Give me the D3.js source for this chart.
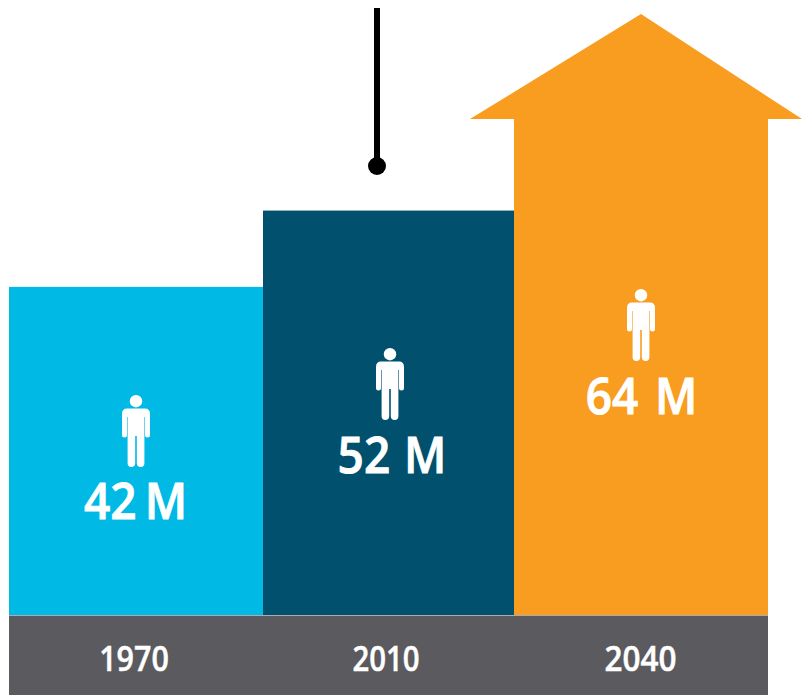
<!DOCTYPE html>
<html>
<head>
<meta charset="utf-8">
<style>
html, body { margin: 0; padding: 0; background: #fff; }
svg { display: block; }
text { font-family: "Open Sans", sans-serif; fill: #fff; stroke: #fff; text-anchor: middle; font-weight: 600; }
</style>
<script src="https://cdn.jsdelivr.net/npm/d3@7/dist/d3.min.js"></script>
</head>
<body>
<svg id="chart" width="802" height="695"></svg>
<script>
const years = ["1970", "2010", "2040"];
const populations = [42, 52, 64];
const valueLabels = ["42 M", "52 M", "64 M"];
const barColors = ["#00b9e4", "#00506e", "#f99d20"];
const bandColor = "#5b5a5e";

const height = 695;
const svg = d3.select("#chart");

// Column edges: the middle bar sits a little off the even division.
const edges = [9, 263, 514, 768];
const left = d3.scaleOrdinal(years, edges.slice(0, 3));
const right = d3.scaleOrdinal(years, edges.slice(1));
// The bars rest on the year band, just under the scale's natural origin.
const y = d3.scaleLinear().domain([-1, 64]).range([615, 119]);

// Year band along the bottom
svg.append("rect")
  .attr("x", edges[0]).attr("y", y(-1) + 0.5)
  .attr("width", edges[3] - edges[0])
  .attr("height", height - y(-1))
  .attr("fill", bandColor);

// Bars
svg.selectAll("rect.bar")
  .data(years)
  .join("rect")
  .attr("class", "bar")
  .attr("x", d => left(d))
  .attr("y", (d, i) => y(populations[i]))
  .attr("width", d => right(d) - left(d))
  .attr("height", (d, i) => y(-1) - y(populations[i]))
  .attr("fill", (d, i) => barColors[i]);

// Arrow head capping the last bar
const shoulder = y(populations[2]);
svg.append("path")
  .attr("d", d3.line()([[470, shoulder], [641, 14], [802, shoulder]]) + "Z")
  .attr("fill", barColors[2]);

// Callout stem over the middle bar
svg.append("line")
  .attr("x1", 377).attr("x2", 377)
  .attr("y1", 8).attr("y2", 165)
  .attr("stroke", "#000").attr("stroke-width", 6);
svg.append("circle")
  .attr("cx", 377).attr("cy", 166).attr("r", 9).attr("fill", "#000");

// Standing figure, drawn around its own centre line
function person(g) {
  g.append("circle").attr("cx", 0).attr("cy", 6.2).attr("r", 6.2).attr("fill", "#fff");
  g.append("path")
    .attr("fill", "#fff")
    .attr("d", "M-9,13.5 H9 Q14,13.5 14,19 V40 Q14,42.5 11.5,42.5 Q9,42.5 9,40 V22 H8.4 V68 Q8.4,72 4.7,72 Q0.8,72 0.8,68 V41 H-0.8 V68 Q-0.8,72 -4.7,72 Q-8.4,72 -8.4,68 V22 H-9 V40 Q-9,42.5 -11.5,42.5 Q-14,42.5 -14,40 V19 Q-14,13.5 -9,13.5 Z");
}

// Placement of each column's figure and captions
const figureX = [136, 390, 641];
const figureTop = [395, 348, 289];
const valueX = [135.5, 392, 641.5];
const valueY = [519, 473, 414];
const valueSpacing = [-4, 2, 5];
const yearX = [134, 386, 640.5];
const yearWidth = [0.87, 0.84, 0.9];

years.forEach((yr, i) => {
  svg.append("g")
    .attr("transform", `translate(${figureX[i]},${figureTop[i]})`)
    .call(person);
  svg.append("text")
    .attr("transform", `translate(${valueX[i]},${valueY[i]}) scale(0.92,1)`)
    .attr("font-size", 50)
    .attr("stroke-width", 0.9)
    .attr("word-spacing", valueSpacing[i])
    .text(valueLabels[i]);
  svg.append("text")
    .attr("transform", `translate(${yearX[i]},671) scale(${yearWidth[i]},1)`)
    .attr("font-size", 35)
    .attr("stroke-width", 0.5)
    .text(yr);
});
</script>
</body>
</html>
